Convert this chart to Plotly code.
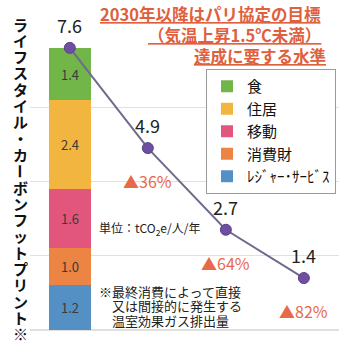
import plotly.graph_objects as go

# Lifestyle carbon footprint: current breakdown and reduction pathway
categories = ["ﾚｼﾞｬｰ･ｻｰﾋﾞｽ", "消費財", "移動", "住居", "食"]
breakdown = [1.2, 1.0, 1.6, 2.4, 1.4]
colors = ["#5590c4", "#ec8444", "#e2567e", "#f2b53f", "#72b64a"]

steps = [0, 1, 2, 3]
footprint = [7.6, 4.9, 2.7, 1.4]
reduction_pct = [None, 36, 64, 82]

title_lines = ["2030年以降はパリ協定の目標", "（気温上昇1.5℃未満）", "達成に要する水準"]
axis_title = "ライフスタイル・カーボンフットプリント※"
unit_text = "単位：tCO<sub>2</sub>e/人/年"
note_lines = ["※最終消費によって直接", "又は間接的に発生する", "温室効果ガス排出量"]

W, H = 339, 344
L, R, T, B = 30, 0, 33, 14
PW, PH = W - L - R, H - T - B


def px(x):
    return (x - L) / PW


def py(y):
    return (H - B - y) / PH


FONT = "Noto Sans CJK JP"

fig = go.Figure()

for name, val, col in zip(categories, breakdown, colors):
    fig.add_trace(go.Bar(
        x=[steps[0]], y=[val], name=name,
        marker=dict(color=col, line=dict(width=0)),
        width=0.54,
        text=[f"{val:.1f}"], textposition="inside", insidetextanchor="middle",
        textfont=dict(family=FONT, size=13, color="#3a3a3a"),
        hoverinfo="skip",
    ))

fig.add_trace(go.Scatter(
    x=steps, y=footprint, mode="lines+markers", showlegend=False,
    line=dict(color="#6f6a8e", width=2),
    marker=dict(color="#6e4fa2", size=11, line=dict(color="#5a3f8a", width=1)),
    hoverinfo="skip",
))

annotations = []

# footprint values above each point
for s, v in zip(steps, footprint):
    annotations.append(dict(
        x=s, y=v, xref="x", yref="y", text=f"{v:.1f}", showarrow=False,
        yshift=23, font=dict(family=FONT, size=18, color="#222222"),
    ))

# reduction relative to the current level below each point
for s, v, p in zip(steps, footprint, reduction_pct):
    if p is None:
        continue
    annotations.append(dict(
        x=s, y=v, xref="x", yref="y", text=f"▲{p}%", showarrow=False,
        yshift=-33, font=dict(family=FONT, size=16, color="#e8694a"),
    ))

# red underlined heading
for line, xr, yc in zip(title_lines, [323, 323, 328], [14, 35, 56]):
    annotations.append(dict(
        x=px(xr), y=py(yc), xref="paper", yref="paper", xanchor="right",
        yanchor="middle", text=f"<u><b>{line}</b></u>", showarrow=False,
        font=dict(family=FONT, size=16.5, color="#e0603e"),
    ))

# vertical axis title, one character per row
for i, ch in enumerate(axis_title):
    annotations.append(dict(
        x=px(20), y=py(24 + i * 16.3), xref="paper", yref="paper",
        xanchor="center", yanchor="middle", text=f"<b>{ch}</b>",
        showarrow=False, textangle=90 if ch == "ー" else 0,
        font=dict(family=FONT, size=15, color="#111111"),
    ))

annotations.append(dict(
    x=px(97), y=py(228), xref="paper", yref="paper", xanchor="left",
    yanchor="middle", text=unit_text, showarrow=False,
    font=dict(family=FONT, size=12, color="#222222"),
))

for i, (line, xl) in enumerate(zip(note_lines, [97, 110, 110])):
    annotations.append(dict(
        x=px(xl), y=py(291 + i * 14.5), xref="paper", yref="paper",
        xanchor="left", yanchor="middle", text=line, showarrow=False,
        font=dict(family=FONT, size=13, color="#222222"),
    ))

fig.update_layout(
    width=W, height=H,
    margin=dict(l=L, r=R, t=T, b=B, pad=0),
    paper_bgcolor="white", plot_bgcolor="white",
    barmode="stack", bargap=0,
    font=dict(family=FONT),
    showlegend=True,
    legend=dict(
        x=px(336), y=py(69), xanchor="right", yanchor="top",
        traceorder="reversed", bgcolor="white",
        bordercolor="#9a9a9a", borderwidth=1,
        font=dict(family=FONT, size=15, color="#111111"),
        itemwidth=30, tracegroupgap=0,
    ),
    xaxis=dict(range=[-0.51, 3.45], showgrid=False, zeroline=False,
               showticklabels=False, ticks="", fixedrange=True),
    yaxis=dict(range=[0, 8], dtick=2, showgrid=True, gridcolor="#e0e0e0",
               gridwidth=1, zeroline=True, zerolinecolor="#e0e0e0",
               showticklabels=False, ticks="", fixedrange=True),
    annotations=annotations,
)

fig.write_html("out.html", config={"displayModeBar": False})
